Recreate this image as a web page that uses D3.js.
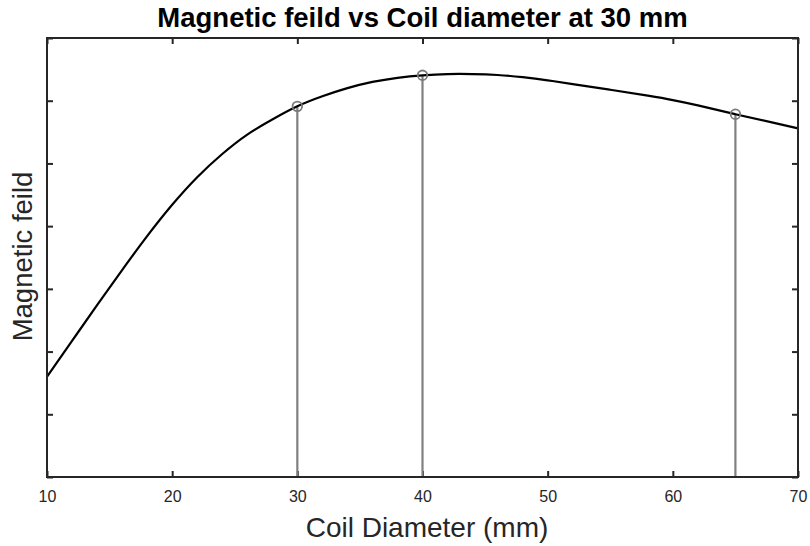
<!DOCTYPE html>
<html>
<head>
<meta charset="utf-8">
<script src="https://cdn.jsdelivr.net/npm/d3@7"></script>
<style>
  html, body { margin: 0; padding: 0; background: #fff; }
  svg { display: block; }
</style>
</head>
<body>
<script>
// ---- data ----
const curveX = [10, 12, 14, 16, 18, 20, 22, 24, 26, 28, 30, 32, 34, 36, 38, 40, 42, 44, 46, 48, 50, 52, 55, 58, 60, 62, 65, 68, 70];
const curveY = [1.60, 2.17, 2.74, 3.30, 3.84, 4.34, 4.78, 5.15, 5.46, 5.70, 5.91, 6.07, 6.20, 6.30, 6.365, 6.405, 6.425, 6.425, 6.41, 6.375, 6.325, 6.265, 6.175, 6.08, 6.01, 5.925, 5.785, 5.65, 5.56];
const stemX = [30, 40, 65];
const stemY = [5.91, 6.405, 5.785];
const xTicks = [10, 20, 30, 40, 50, 60, 70];
const yTicks = [0, 1, 2, 3, 4, 5, 6, 7];
const titleText = "Magnetic feild vs Coil diameter at 30 mm";
const xLabelText = "Coil Diameter (mm)";
const yLabelText = "Magnetic feild";

// ---- layout ----
const W = 810, H = 546;
const L = 47, R = 798, T = 38, B = 477;
const axisColor = "#262626";

const svg = d3.select("body").append("svg").attr("width", W).attr("height", H);

const x = d3.scaleLinear().domain([10, 70]).range([L, R]);
const y = d3.scaleLinear().domain([0, 7]).range([B, T]);

// ticks (inward) via axes
const tickLen = 6;
const gB = svg.append("g").attr("transform", `translate(0,${B})`)
  .call(d3.axisBottom(x).tickValues(xTicks).tickSize(-tickLen).tickPadding(14).tickFormat(d3.format("d")));
const gT = svg.append("g").attr("transform", `translate(0,${T})`)
  .call(d3.axisTop(x).tickValues(xTicks).tickSize(-tickLen).tickFormat(""));
const gL = svg.append("g").attr("transform", `translate(${L},0)`)
  .call(d3.axisLeft(y).tickValues(yTicks).tickSize(-tickLen).tickFormat(""));
const gR = svg.append("g").attr("transform", `translate(${R},0)`)
  .call(d3.axisRight(y).tickValues(yTicks).tickSize(-tickLen).tickFormat(""));
[gB, gT, gL, gR].forEach(g => {
  g.select(".domain").remove();
  g.selectAll(".tick line").attr("stroke", axisColor).attr("stroke-width", 2);
});
gB.selectAll(".tick text")
  .attr("font-family", "'Liberation Sans', Arial, sans-serif")
  .attr("font-size", 16).attr("fill", axisColor);

// stems
svg.append("g").selectAll("line").data(stemX).join("line")
  .attr("x1", d => x(d)).attr("x2", d => x(d))
  .attr("y1", y(0)).attr("y2", (d, i) => y(stemY[i]))
  .attr("stroke", "#808080").attr("stroke-width", 2.2);

// curve
const pts = curveX.map((d, i) => [d, curveY[i]]);
svg.append("path").datum(pts)
  .attr("d", d3.line().x(d => x(d[0])).y(d => y(d[1])).curve(d3.curveNatural))
  .attr("fill", "none").attr("stroke", "#000").attr("stroke-width", 2.2);

// markers
svg.append("g").selectAll("circle").data(stemX).join("circle")
  .attr("cx", d => x(d)).attr("cy", (d, i) => y(stemY[i])).attr("r", 4.8)
  .attr("fill", "none").attr("stroke", "#7a7a7a").attr("stroke-width", 1.8);

// box
svg.append("rect").attr("x", L).attr("y", T).attr("width", R - L).attr("height", B - T)
  .attr("fill", "none").attr("stroke", axisColor).attr("stroke-width", 2);

// title
svg.append("text").attr("x", 422.5).attr("y", 27).attr("text-anchor", "middle")
  .attr("font-family", "'Liberation Sans', Arial, sans-serif").attr("font-weight", "bold")
  .attr("font-size", 27.5).attr("fill", "#000").text(titleText);

// x label
svg.append("text").attr("x", 427).attr("y", 537).attr("text-anchor", "middle")
  .attr("font-family", "'Liberation Sans', Arial, sans-serif")
  .attr("font-size", 28).attr("fill", axisColor).text(xLabelText);

// y label
svg.append("text").attr("transform", `translate(32,256.5) rotate(-90)`).attr("text-anchor", "middle")
  .attr("font-family", "'Liberation Sans', Arial, sans-serif")
  .attr("font-size", 27.5).attr("fill", axisColor).text(yLabelText);
</script>
</body>
</html>
